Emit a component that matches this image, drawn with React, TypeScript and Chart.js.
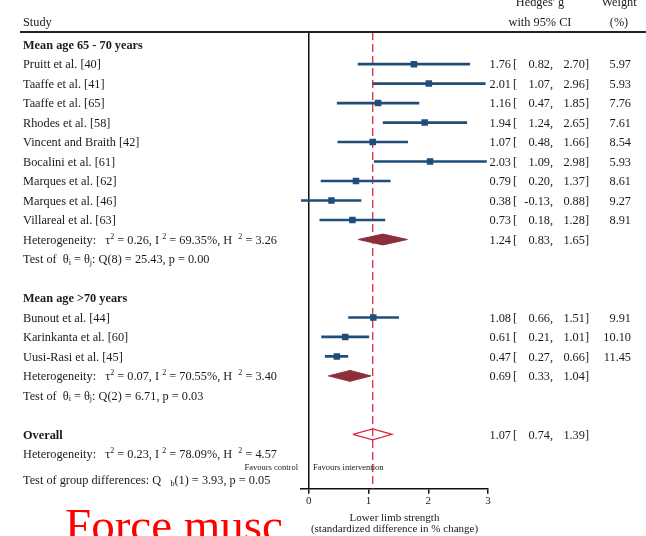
import React, { useEffect, useRef } from 'react';
import { Chart, registerables } from 'chart.js';

Chart.register(...registerables);

const FONT = '"Liberation Serif", "Times New Roman", Times, serif';
const FS = 12.3;

// ---- Study-level data ----
const studyNames = [
  'Pruitt et al. [40]',
  'Taaffe et al. [41]',
  'Taaffe et al. [65]',
  'Rhodes et al. [58]',
  'Vincent and Braith [42]',
  'Bocalini et al. [61]',
  'Marques et al. [62]',
  'Marques et al. [46]',
  'Villareal et al. [63]',
  'Bunout et al. [44]',
  'Karinkanta et al. [60]',
  'Uusi-Rasi et al. [45]',
];
const studyRows = [1, 2, 3, 4, 5, 6, 7, 8, 9, 14, 15, 16];
const estimates = [1.76, 2.01, 1.16, 1.94, 1.07, 2.03, 0.79, 0.38, 0.73, 1.08, 0.61, 0.47];
const lowerCI = [0.82, 1.07, 0.47, 1.24, 0.48, 1.09, 0.2, -0.13, 0.18, 0.66, 0.21, 0.27];
const upperCI = [2.7, 2.96, 1.85, 2.65, 1.66, 2.98, 1.37, 0.88, 1.28, 1.51, 1.01, 0.66];
const weights = [5.97, 5.93, 7.76, 7.61, 8.54, 5.93, 8.61, 9.27, 8.91, 9.91, 10.1, 11.45];

// ---- Subgroups / pooled ----
const subgroupTitles = ['Mean age 65 - 70 years', 'Mean age >70 years'];
const subgroupTitleRows = [0, 13];
const pooledRows = [10, 17, 20];
const pooledEst = [1.24, 0.69, 1.07];
const pooledLower = [0.83, 0.33, 0.74];
const pooledUpper = [1.65, 1.04, 1.39];
const hetTau2 = ['0.26', '0.07', '0.23'];
const hetI2 = ['69.35', '70.55', '78.09'];
const hetH2 = ['3.26', '3.40', '4.57'];
const hetRows = [10, 17, 21];
const homogQ = ['Q(8) = 25.43, p = 0.00', 'Q(2) = 6.71, p = 0.03'];
const homogRows = [11, 18];
const overallLabel = 'Overall';
const overallRow = 20;
const groupDiffText = '(1) = 3.93, p = 0.05';
const groupDiffRow = 22.33;
const favoursRow = 21.65;

// ---- Axis ----
const xTicks = [0, 1, 2, 3];
const xMin = -0.13;
const xMax = 3;
const rowMin = -0.649;
const rowMax = 22.79;
const xTitle = ['Lower limb strength', '(standardized difference in % change)'];

const NAVY = '#1f4e79';
const MAROON = '#8b2f3a';
const RED = '#dc2a3c';
const TXT = '#1a1a1a';
const DH = 0.28; // diamond half-height in rows

type Part = [string, number];

function drawRich(ctx: CanvasRenderingContext2D, x: number, y: number, parts: Part[]) {
  let cx = x;
  for (const [t, m] of parts) {
    ctx.font = m === 0 ? `${FS}px ${FONT}` : `8px ${FONT}`;
    const dy = m === 1 ? -4 : m === -1 ? 3 : 0;
    ctx.fillText(t, cx, y + dy);
    cx += ctx.measureText(t).width;
  }
}

const textPlugin = {
  id: 'forestText',
  afterDraw(chart: any) {
    const ctx: CanvasRenderingContext2D = chart.ctx;
    const ys = chart.scales.y;
    const area = chart.chartArea;
    const py = (r: number) => ys.getPixelForValue(r) + 1;
    ctx.save();

    // header rule
    ctx.strokeStyle = '#222';
    ctx.lineWidth = 2;
    ctx.beginPath();
    ctx.moveTo(20, area.top);
    ctx.lineTo(646, area.top);
    ctx.stroke();

    ctx.fillStyle = TXT;
    ctx.textBaseline = 'alphabetic';
    ctx.font = `${FS}px ${FONT}`;
    ctx.textAlign = 'left';
    ctx.fillText('Study', 23, 26);
    ctx.textAlign = 'center';
    ctx.fillText("Hedges' g", 540, 6);
    ctx.fillText('with 95% CI', 540, 26);
    ctx.fillText('Weight', 619, 6);
    ctx.fillText('(%)', 619, 26);

    ctx.textBaseline = 'middle';
    // subgroup titles
    ctx.textAlign = 'left';
    ctx.font = `bold ${FS}px ${FONT}`;
    subgroupTitles.forEach((t, i) => ctx.fillText(t, 23, py(subgroupTitleRows[i])));
    ctx.fillText(overallLabel, 23, py(overallRow));

    // study names
    ctx.font = `${FS}px ${FONT}`;
    studyNames.forEach((t, i) => ctx.fillText(t, 23, py(studyRows[i])));

    // right columns
    const drawStats = (r: number, e: number, lo: number, hi: number, w?: number) => {
      const y = py(r);
      ctx.font = `${FS}px ${FONT}`;
      ctx.textAlign = 'right';
      ctx.fillText(e.toFixed(2), 511, y);
      ctx.textAlign = 'left';
      ctx.fillText('[', 513, y);
      ctx.textAlign = 'right';
      ctx.fillText(lo.toFixed(2) + ',', 553, y);
      ctx.fillText(hi.toFixed(2) + ']', 589, y);
      if (w !== undefined) ctx.fillText(w.toFixed(2), 631, y);
    };
    studyRows.forEach((r, i) => drawStats(r, estimates[i], lowerCI[i], upperCI[i], weights[i]));
    pooledRows.forEach((r, i) => drawStats(r, pooledEst[i], pooledLower[i], pooledUpper[i]));

    // heterogeneity lines
    ctx.textAlign = 'left';
    hetRows.forEach((r, i) => {
      drawRich(ctx, 23, py(r), [
        ['Heterogeneity:   \u03c4', 0],
        ['2', 1],
        [` = ${hetTau2[i]}, I `, 0],
        ['2', 1],
        [` = ${hetI2[i]}%, H  `, 0],
        ['2', 1],
        [` = ${hetH2[i]}`, 0],
      ]);
    });
    homogRows.forEach((r, i) => {
      drawRich(ctx, 23, py(r), [
        ['Test of  \u03b8', 0],
        ['i', -1],
        [' = \u03b8', 0],
        ['j', -1],
        [': ' + homogQ[i], 0],
      ]);
    });
    drawRich(ctx, 23, py(groupDiffRow), [
      ['Test of group differences: Q   ', 0],
      ['b', -1],
      [groupDiffText, 0],
    ]);

    // favours
    ctx.font = `8.5px ${FONT}`;
    ctx.textAlign = 'right';
    ctx.fillText('Favours control', 298, py(favoursRow));
    ctx.textAlign = 'left';
    ctx.fillText('Favours intervention', 313, py(favoursRow));

    // red overlay text
    ctx.fillStyle = '#ff0000';
    ctx.textBaseline = 'alphabetic';
    ctx.font = `47px ${FONT}`;
    ctx.fillText('Force musc', 65, 541);

    ctx.restore();
  },
};

export default function App() {
  const ref = useRef<HTMLCanvasElement | null>(null);

  useEffect(() => {
    document.body.style.margin = '0';
    const canvas = ref.current;
    if (!canvas) return;

    const datasets: any[] = [];
    // zero line
    datasets.push({
      type: 'line',
      data: [{ x: 0, y: rowMin }, { x: 0, y: rowMax }],
      borderColor: '#111',
      borderWidth: 1.5,
      pointRadius: 0,
      order: 60,
    });
    // overall estimate reference line
    datasets.push({
      type: 'line',
      data: [{ x: pooledEst[2], y: rowMin }, { x: pooledEst[2], y: rowMax }],
      borderColor: RED,
      borderWidth: 1.3,
      borderDash: [8, 4],
      pointRadius: 0,
      order: 50,
    });
    // CI lines
    studyRows.forEach((r, i) => {
      datasets.push({
        type: 'line',
        data: [{ x: lowerCI[i], y: r }, { x: upperCI[i], y: r }],
        borderColor: NAVY,
        borderWidth: 2.6,
        pointRadius: 0,
        order: 40,
      });
    });
    // point estimates
    datasets.push({
      type: 'line',
      showLine: false,
      data: studyRows.map((r, i) => ({ x: estimates[i], y: r })),
      pointStyle: 'rect',
      pointRadius: 4.6,
      backgroundColor: NAVY,
      borderColor: NAVY,
      borderWidth: 0,
      order: 10,
    });
    // subgroup diamonds
    for (let g = 0; g < 2; g++) {
      const r = pooledRows[g];
      const upIdx = datasets.length;
      datasets.push({
        type: 'line',
        data: [
          { x: pooledLower[g], y: r },
          { x: pooledEst[g], y: r - DH },
          { x: pooledUpper[g], y: r },
        ],
        borderColor: MAROON,
        borderWidth: 1,
        pointRadius: 0,
        fill: false,
        order: 20,
      });
      datasets.push({
        type: 'line',
        data: [
          { x: pooledLower[g], y: r },
          { x: pooledEst[g], y: r + DH },
          { x: pooledUpper[g], y: r },
        ],
        borderColor: MAROON,
        backgroundColor: MAROON,
        borderWidth: 1,
        pointRadius: 0,
        fill: upIdx,
        order: 20,
      });
    }
    // overall diamond (hollow)
    {
      const r = pooledRows[2];
      datasets.push({
        type: 'line',
        data: [
          { x: pooledLower[2], y: r },
          { x: pooledEst[2], y: r - DH },
          { x: pooledUpper[2], y: r },
          { x: pooledEst[2], y: r + DH },
          { x: pooledLower[2], y: r },
        ],
        borderColor: RED,
        borderWidth: 1.3,
        pointRadius: 0,
        fill: false,
        order: 15,
      });
    }

    const chart = new Chart(canvas, {
      type: 'line',
      data: { datasets },
      options: {
        animation: false,
        responsive: false,
        maintainAspectRatio: false,
        events: [],
        layout: { padding: { left: 301, right: 158, top: 32, bottom: 1 } },
        plugins: { legend: { display: false }, tooltip: { enabled: false } },
        scales: {
          x: {
            type: 'linear',
            min: xMin,
            max: xMax,
            afterBuildTicks: (s: any) => {
              s.ticks = xTicks.map((v) => ({ value: v }));
            },
            grid: {
              display: true,
              drawOnChartArea: false,
              drawTicks: true,
              tickLength: 5,
              color: '#111',
              lineWidth: 1.5,
            },
            border: { display: true, color: '#111', width: 1.5 },
            ticks: {
              font: { family: FONT, size: 11 },
              color: TXT,
              padding: 1,
              autoSkip: false,
              maxRotation: 0,
            },
            title: {
              display: true,
              text: xTitle,
              font: { family: FONT, size: 11, lineHeight: 1.05 },
              color: TXT,
              padding: { top: 3, bottom: 0 },
            },
          },
          y: { type: 'linear', min: rowMin, max: rowMax, reverse: true, display: false },
        },
      } as any,
      plugins: [textPlugin],
    });
    return () => chart.destroy();
  }, []);

  return (
    <div style={{ width: 646, height: 536, background: '#fff' }}>
      <canvas ref={ref} width={646} height={536} style={{ display: 'block' }} />
    </div>
  );
}
